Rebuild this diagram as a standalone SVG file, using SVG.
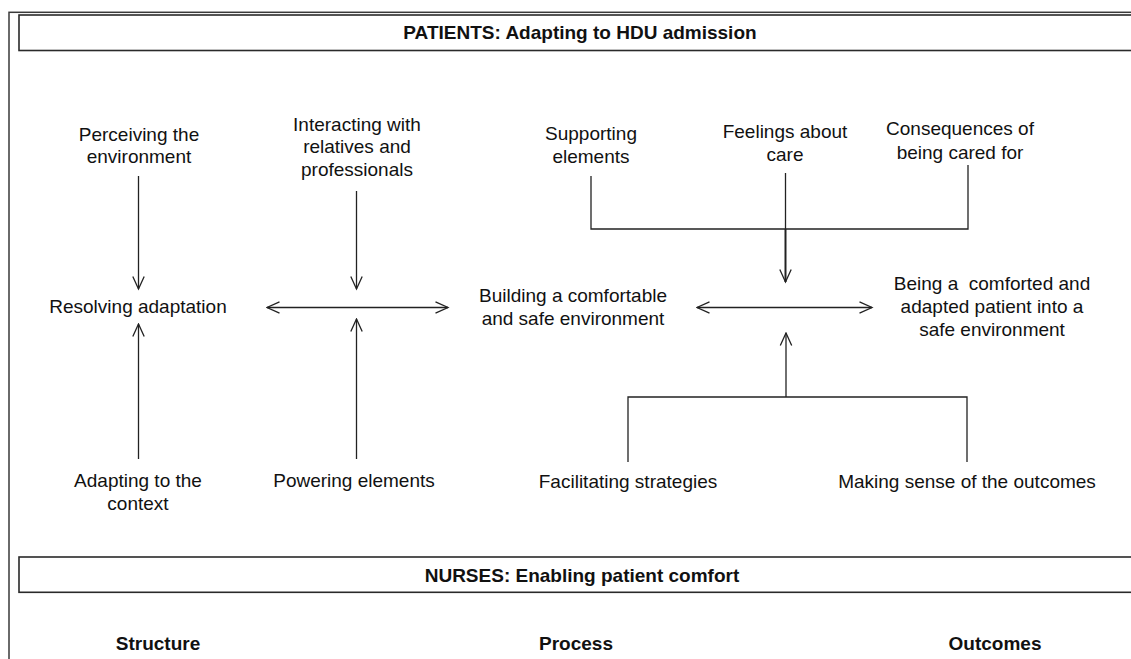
<svg xmlns="http://www.w3.org/2000/svg" width="1131" height="659" viewBox="0 0 1131 659">
  <style>
    .frame { fill: none; stroke: #3a3a3a; stroke-width: 1.5; }
    .box { fill: #ffffff; stroke: #2a2a2a; stroke-width: 1.6; }
    .lbl { font-family: "Liberation Sans", Arial, sans-serif; font-size: 19px; fill: #111111; text-anchor: middle; white-space: pre; }
    .hdr { font-family: "Liberation Sans", Arial, sans-serif; font-size: 19px; font-weight: bold; fill: #111111; text-anchor: middle; }
    .ln { fill: none; stroke: #222222; stroke-width: 1.3; }
    .thick { stroke-width: 2; }
  </style>
  <defs>
    <marker id="head" viewBox="0 0 15 14" refX="13.5" refY="7" markerWidth="15" markerHeight="14" markerUnits="userSpaceOnUse" orient="auto-start-reverse">
      <path d="M1,1.3 L13.5,7 L1,12.7" fill="none" stroke="#222222" stroke-width="1.3"/>
    </marker>
  </defs>

  <rect width="1131" height="659" fill="#ffffff"/>

  <!-- outer frame, running past the right and bottom edges -->
  <rect class="frame" x="9" y="12.3" width="1160" height="700"/>

  <!-- patient section header -->
  <g id="patients-header">
    <rect class="box" x="19" y="15" width="1122" height="35.5"/>
    <text class="hdr" x="580" y="38.5">PATIENTS: Adapting to HDU admission</text>
  </g>

  <!-- nurse section header -->
  <g id="nurses-header">
    <rect class="box" x="19" y="557" width="1122" height="35.3"/>
    <text class="hdr" x="582" y="581.5">NURSES: Enabling patient comfort</text>
  </g>

  <g id="perceiving">
    <text class="lbl" x="139" y="140.5">Perceiving the</text>
    <text class="lbl" x="139" y="163">environment</text>
  </g>
  <g id="interacting">
    <text class="lbl" x="357" y="130.5">Interacting with</text>
    <text class="lbl" x="357" y="153">relatives and</text>
    <text class="lbl" x="357" y="175.5">professionals</text>
  </g>
  <g id="resolving">
    <text class="lbl" x="138" y="313">Resolving adaptation</text>
  </g>
  <g id="adapting">
    <text class="lbl" x="138" y="487">Adapting to the</text>
    <text class="lbl" x="138" y="510">context</text>
  </g>
  <g id="powering">
    <text class="lbl" x="354" y="487">Powering elements</text>
  </g>
  <g id="building">
    <text class="lbl" x="573" y="302">Building a comfortable</text>
    <text class="lbl" x="573" y="325">and safe environment</text>
  </g>
  <g id="supporting">
    <text class="lbl" x="591" y="140">Supporting</text>
    <text class="lbl" x="591" y="163">elements</text>
  </g>
  <g id="feelings">
    <text class="lbl" x="785" y="137.5">Feelings about</text>
    <text class="lbl" x="785" y="161">care</text>
  </g>
  <g id="consequences">
    <text class="lbl" x="960" y="135">Consequences of</text>
    <text class="lbl" x="960" y="159">being cared for</text>
  </g>
  <g id="comforted-patient">
    <text class="lbl" x="992" y="290">Being a  comforted and</text>
    <text class="lbl" x="992" y="313">adapted patient into a</text>
    <text class="lbl" x="992" y="336">safe environment</text>
  </g>
  <g id="facilitating">
    <text class="lbl" x="628" y="488">Facilitating strategies</text>
  </g>
  <g id="making-sense">
    <text class="lbl" x="967" y="488">Making sense of the outcomes</text>
  </g>

  <g id="structure-col">
    <text class="hdr" x="158" y="650">Structure</text>
  </g>
  <g id="process-col">
    <text class="hdr" x="576" y="650">Process</text>
  </g>
  <g id="outcomes-col">
    <text class="hdr" x="995" y="650">Outcomes</text>
  </g>

  <g id="connectors">
    <!-- left cluster -->
    <line class="ln" x1="138.5" y1="176" x2="138.5" y2="289" marker-end="url(#head)"/>
    <line class="ln" x1="138.5" y1="459" x2="138.5" y2="324" marker-end="url(#head)"/>
    <line class="ln" x1="356.5" y1="191" x2="356.5" y2="289" marker-end="url(#head)"/>
    <line class="ln" x1="356.5" y1="459" x2="356.5" y2="319" marker-end="url(#head)"/>
    <line class="ln" x1="267" y1="307.5" x2="448" y2="307.5" marker-start="url(#head)" marker-end="url(#head)"/>

    <!-- right cluster, top bracket -->
    <polyline class="ln" points="591,176 591,229 968,229 968,165"/>
    <line class="ln" x1="785.5" y1="173" x2="785.5" y2="229"/>
    <line class="ln thick" x1="785.5" y1="229" x2="785.5" y2="282" marker-end="url(#head)"/>
    <line class="ln" x1="697" y1="307.5" x2="872" y2="307.5" marker-start="url(#head)" marker-end="url(#head)"/>

    <!-- right cluster, bottom bracket -->
    <polyline class="ln" points="628,462 628,397 967,397 967,462"/>
    <line class="ln" x1="786" y1="397" x2="786" y2="333" marker-end="url(#head)"/>
  </g>
</svg>
